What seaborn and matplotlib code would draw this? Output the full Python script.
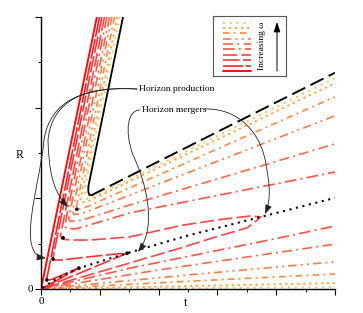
import matplotlib
matplotlib.use("Agg")
import matplotlib.pyplot as plt
from matplotlib.path import Path
from matplotlib.patches import FancyArrowPatch
from matplotlib.transforms import Affine2D
import pandas as pd
import seaborn as sns

# ---------------- data (t, R) ----------------
# branches: steep horizon -> production nose -> middle branch -> (merger nose) -> lower branch
w1_t = [1.90, 0.00]
w1_R = [6.00, 0.00]
w2_t = [1.99, 0.20, 0.24, 0.40, 0.80, 1.20, 1.29, 1.18, 0.60, 0.00]
w2_R = [6.00, 0.24, 0.19, 0.22, 0.33, 0.44, 0.46, 0.42, 0.21, 0.00]
w3_t = [2.07, 0.41, 0.46, 0.70, 1.50, 2.50, 2.93, 2.75, 1.50, 0.00]
w3_R = [6.00, 0.70, 0.64, 0.64, 0.70, 0.77, 0.79, 0.74, 0.40, 0.00]
w4_t = [2.16, 0.66, 0.72, 1.00, 1.67, 3.03, 4.83, 6.19, 7.11, 7.48, 7.24, 7.01, 5.85, 4.73, 0.00]
w4_R = [6.00, 1.17, 1.10, 1.08, 1.08, 1.15, 1.41, 1.54, 1.61, 1.59, 1.46, 1.35, 1.13, 0.90, 0.00]
w5_t = [2.24, 0.81, 0.87, 1.20, 2.00, 3.03, 10.0]
w5_R = [6.00, 1.40, 1.33, 1.33, 1.48, 1.68, 2.58]
w6_t = [2.33, 0.94, 1.00, 1.40, 3.00, 10.0]
w6_R = [6.00, 1.55, 1.49, 1.52, 1.85, 3.20]
w7_t = [2.41, 1.07, 1.13, 1.50, 10.0]
w7_R = [6.00, 1.70, 1.64, 1.69, 3.82]
w8_t = [2.50, 1.20, 1.25, 1.55, 10.0]
w8_R = [6.00, 1.80, 1.75, 1.81, 4.24]
w9_t = [2.59, 1.34, 1.39, 1.65, 10.0]
w9_R = [6.00, 1.96, 1.90, 1.95, 4.54]
w10_t = [2.67, 1.50, 1.51, 1.56, 1.75, 10.0]
w10_R = [6.00, 2.25, 2.03, 1.99, 2.02, 4.65]

# lower branches (from the origin, merging beyond the plotted range)
w5_low_t = [0.00, 3.03, 8.13, 10.0]
w5_low_R = [0.00, 0.46, 1.13, 1.39]
w6_low_t = [0.00, 4.00, 10.0]
w6_low_R = [0.00, 0.42, 0.99]
w7_low_t = [0.00, 5.00, 10.0]
w7_low_R = [0.00, 0.31, 0.60]
w8_low_t = [0.00, 5.00, 10.0]
w8_low_R = [0.00, 0.17, 0.33]
w9_low_t = [0.00, 10.0]
w9_low_R = [0.00, 0.13]
w10_low_t = [0.00, 10.0]
w10_low_R = [0.00, 0.04]

# limiting (omega -> infinity) curve
lim_steep_t = [2.79, 1.61, 1.61, 1.65, 1.72]
lim_steep_R = [6.00, 2.26, 2.14, 2.07, 2.07]
lim_flat_t = [1.72, 10.0]
lim_flat_R = [2.07, 4.77]

# locus of horizon mergers
merge_t = [0.05, 0.60, 1.29, 2.93, 5.00, 7.48, 10.0]
merge_R = [0.03, 0.25, 0.46, 0.79, 1.18, 1.59, 2.01]

# marked points
prod_pts_t = [0.20, 0.41, 0.75, 1.22]
prod_pts_R = [0.20, 0.66, 1.13, 1.76]
merge_pts_t = [1.29, 2.93]
merge_pts_R = [0.46, 0.79]

x_major = [0, 2, 4, 6, 8, 10]
x_minor = [1, 3, 5, 7, 9]
y_major = [0, 2, 4, 6]
y_minor = [1, 3, 5]

# ---------------- styles ----------------
colors = ['#ee1111', '#f42424', '#f83636', '#fa4646', '#fb5444',
          '#fc6848', '#fd7a44', '#fe8a40', '#fea23e', '#fdb84c']
styles = ['-', (0, (12, 1.5)), (0, (10, 2)), (0, (8.5, 2.5)), (0, (7, 2.5, 1.2, 2.5)),
          (0, (6, 2.5, 1.2, 2.5)), (0, (5, 2.5, 1.2, 2.5, 1.2, 2.5)), (0, (4, 2.5, 1.2, 2.5)),
          (0, (1.3, 2.0)), (0, (1.0, 2.8))]
widths = [1.4, 1.2, 1.2, 1.2, 1.2, 1.2, 1.2, 1.2, 1.3, 1.3]

sns.set_theme(style="white")
plt.rcParams['font.family'] = ['Liberation Serif', 'DejaVu Serif']
plt.rcParams['text.color'] = 'black'

fig = plt.figure(figsize=(3.63, 3.13), dpi=100)
ax = fig.add_axes([41 / 363, (313 - 289) / 313, 294 / 363, 272 / 313])

main_curves = [(w1_t, w1_R), (w2_t, w2_R), (w3_t, w3_R), (w4_t, w4_R), (w5_t, w5_R),
               (w6_t, w6_R), (w7_t, w7_R), (w8_t, w8_R), (w9_t, w9_R), (w10_t, w10_R)]
low_curves = {4: (w5_low_t, w5_low_R), 5: (w6_low_t, w6_low_R), 6: (w7_low_t, w7_low_R),
              7: (w8_low_t, w8_low_R), 8: (w9_low_t, w9_low_R), 9: (w10_low_t, w10_low_R)}


def draw(t, R, **kw):
    df = pd.DataFrame({"t": t, "R": R})
    sns.lineplot(data=df, x="t", y="R", sort=False, estimator=None, ax=ax,
                 legend=False, **kw)


for k in range(9, -1, -1):
    t, R = main_curves[k]
    draw(t, R, color=colors[k], linestyle=styles[k], linewidth=widths[k],
         solid_joinstyle='round')
    if k in low_curves:
        lt, lR = low_curves[k]
        draw(lt, lR, color=colors[k], linestyle=styles[k], linewidth=widths[k])

draw(lim_steep_t, lim_steep_R, color='black', linewidth=1.3, solid_joinstyle='round')
draw(lim_flat_t, lim_flat_R, color='black', linewidth=1.4, linestyle=(0, (7.5, 3)))
draw(merge_t, merge_R, color='black', linewidth=1.5, linestyle=(0, (1, 2.2)))

sns.scatterplot(x=prod_pts_t + merge_pts_t, y=prod_pts_R + merge_pts_R, color='black',
                s=7, edgecolor='none', ax=ax, zorder=6, legend=False)

ax.set_xlim(0, 10)
ax.set_ylim(0, 6)
for s in ['top', 'right']:
    ax.spines[s].set_visible(False)
for s in ['left', 'bottom']:
    ax.spines[s].set_color('black')
    ax.spines[s].set_linewidth(1.0)
ax.set_xticks(x_major, labels=['0', '', '', '', '', ''])
ax.set_xticks(x_minor, minor=True)
ax.set_yticks(y_major, labels=['0', '', '', ''])
ax.set_yticks(y_minor, minor=True)
ax.tick_params(which='both', bottom=True, left=True, direction='out', color='black')
ax.tick_params(which='major', length=4, width=0.8, pad=2, labelsize=8, labelcolor='black')
ax.tick_params(which='minor', length=2.2, width=0.7)
ax.set_xlabel('t', fontsize=8.5, color='black')
ax.set_ylabel('R', fontsize=8.5, color='black', rotation=0, ha='center', va='center')
ax.xaxis.set_label_coords(0.493, -0.03)
ax.yaxis.set_label_coords(-0.072, 0.493)

# pixel-coordinate transform (origin top-left of the 363x313 picture) for annotations
ptrans = Affine2D().scale(1 / 100, -1 / 100).translate(0, 3.13) + fig.dpi_scale_trans

fig.text(139, 89, 'Horizon production', transform=ptrans, fontsize=6.8,
         ha='left', va='center')
fig.text(142, 110, 'Horizon mergers', transform=ptrans, fontsize=6.8,
         ha='left', va='center')

C = Path.CURVE4
arrow_paths = [
    [(137, 89), (85, 86), (52, 100), (48, 140), (49, 170), (52, 190), (68, 207)],
    [(137, 89), (85, 86), (50, 100), (44, 140), (40, 185), (15, 255), (46, 258)],
    [(140, 110), (128, 110), (124, 130), (133, 155), (145, 180), (158, 225), (138, 252)],
    [(205, 109), (240, 108), (262, 135), (266, 165), (270, 185), (271, 200), (265, 214)],
]
for pts in arrow_paths:
    path = Path(pts, [Path.MOVETO, C, C, C, C, C, C])
    arr = FancyArrowPatch(path=path, transform=ptrans, arrowstyle='-|>,head_length=0.55,head_width=0.2',
                          mutation_scale=10, lw=0.6, color='#222222', zorder=7)
    fig.add_artist(arr)

# legend box
lax = fig.add_axes([213 / 363, (313 - 76) / 313, 73 / 363, 60 / 313])
lax.set_xlim(213, 286)
lax.set_ylim(76, 16)
lax.set_xticks([])
lax.set_yticks([])
lax.set_facecolor('white')
for sp in lax.spines.values():
    sp.set_visible(True)
    sp.set_color('#555555')
    sp.set_linewidth(0.8)
for k in range(10):
    y = 71 - 5.38 * k
    lax.plot([223, 251], [y, y], color=colors[k], linestyle=styles[k], linewidth=widths[k])
lax.text(262, 46, 'Increasing ω', rotation=90, ha='center', va='center', fontsize=6.8)
lax.annotate('', xy=(277, 22), xytext=(277, 71),
             arrowprops=dict(arrowstyle='-|>,head_length=0.6,head_width=0.2', lw=0.7,
                             color='black', mutation_scale=10, shrinkA=0, shrinkB=0))

fig.savefig('out.png', dpi=100)
